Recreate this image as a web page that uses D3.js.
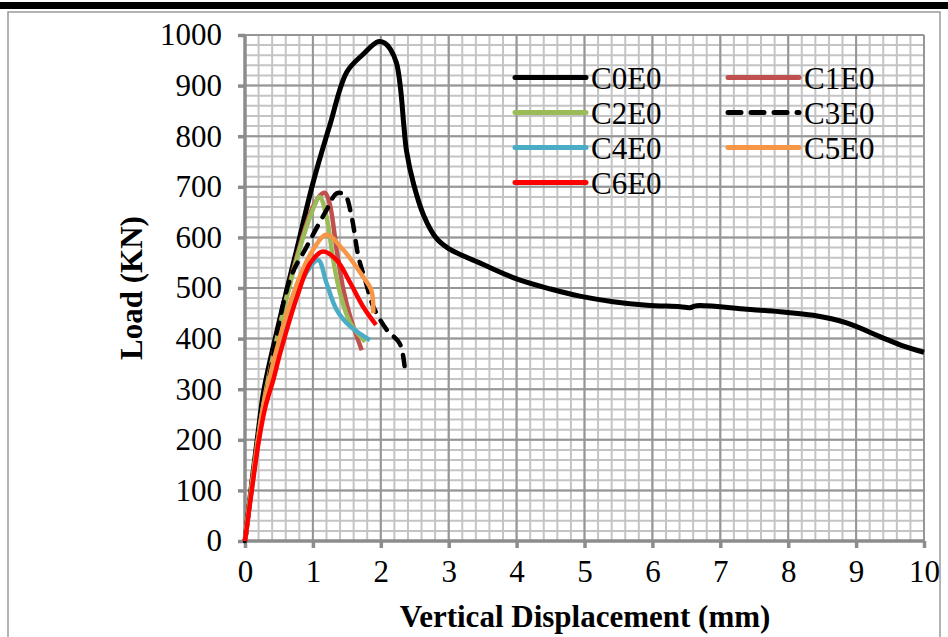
<!DOCTYPE html>
<html>
<head>
<meta charset="utf-8">
<script src="https://cdn.jsdelivr.net/npm/d3@7/dist/d3.min.js"></script>
<style>
  html, body { margin: 0; padding: 0; background: #fff; }
  svg { display: block; }
  text { font-family: "Liberation Serif", "Times New Roman", serif; fill: #000; }
</style>
</head>
<body>
<svg id="chart" width="948" height="637"></svg>
<script>
// Load–displacement curves, [displacement (mm), load (kN)]
const c0e0 = [[0,0],[0.1,115],[0.2,222],[0.28,300],[0.52,443],[0.76,575],[1.0,707],[1.25,822],[1.5,927],[1.74,962],[1.96,987],[2.06,984],[2.14,972],[2.23,945],[2.29,895],[2.34,820],[2.38,770],[2.48,707],[2.63,644],[2.82,598],[3.0,578],[3.5,547],[4.0,518],[4.5,498],[4.93,484],[5.42,473],[5.92,466],[6.41,463],[6.55,461],[6.65,465],[7.39,458],[7.88,453],[8.37,446],[8.86,431],[9.35,404],[9.7,385],[10,373]];
const c1e0 = [[0,0],[0.1,110],[0.2,210],[0.3,292],[0.55,448],[0.8,580],[1.0,660],[1.12,685],[1.18,688],[1.25,665],[1.35,575],[1.45,496],[1.55,443],[1.72,377]];
const c2e0 = [[0,0],[0.1,110],[0.2,210],[0.3,290],[0.55,445],[0.8,575],[1.0,655],[1.1,680],[1.2,641],[1.3,555],[1.4,490],[1.55,431],[1.77,394]];
const c3e0 = [[0,0],[0.1,108],[0.2,205],[0.3,280],[0.66,516],[0.91,582],[1.2,654],[1.35,687],[1.47,684],[1.57,641],[1.67,562],[1.77,516],[1.89,463],[2.09,417],[2.28,390],[2.36,332]];
const c4e0 = [[0,0],[0.1,105],[0.2,200],[0.3,275],[0.55,400],[0.76,490],[0.95,540],[1.08,555],[1.2,510],[1.35,457],[1.55,424],[1.84,397]];
const c5e0 = [[0,0],[0.1,108],[0.2,205],[0.3,285],[0.55,420],[0.8,520],[1.0,575],[1.2,605],[1.45,575],[1.74,522],[1.86,496],[1.89,450]];
const c6e0 = [[0,0],[0.1,100],[0.2,195],[0.3,265],[0.42,320],[0.52,372],[0.76,480],[0.96,549],[1.15,572],[1.35,555],[1.55,510],[1.74,463],[1.93,427]];

const seriesNames = ["C0E0","C1E0","C2E0","C3E0","C4E0","C5E0","C6E0"];
const seriesColors = ["#000000","#C0504D","#9BBB59","#000000","#4BACC6","#F79646","#FF0000"];
const seriesDashed = [false,false,false,true,false,false,false];
const seriesData = [c0e0,c1e0,c2e0,c3e0,c4e0,c5e0,c6e0];

const xTicks = [0,1,2,3,4,5,6,7,8,9,10];
const yTicks = [0,100,200,300,400,500,600,700,800,900,1000];

const svg = d3.select("#chart");

// Page frame
svg.append("rect").attr("x", 8).attr("y", 12).attr("width", 932).attr("height", 640)
  .attr("fill", "none").attr("stroke", "#9a9a9a").attr("stroke-width", 1.5);
svg.append("rect").attr("x", 0).attr("y", 2).attr("width", 948).attr("height", 7).attr("fill", "#000");

const plot = { left: 245, right: 924, top: 35, bottom: 541 };
const x = d3.scaleLinear().domain([0, 10]).range([plot.left, plot.right]);
const y = d3.scaleLinear().domain([0, 1000]).range([plot.bottom, plot.top]);

// Grid: minor every 0.2 mm / 20 kN, major every 1 mm / 100 kN
const g = svg.append("g");
const xMinor = d3.range(0, 10.001, 0.2);
const yMinor = d3.range(0, 1000.1, 20);
g.selectAll("line.xm").data(xMinor).join("line")
  .attr("x1", d => x(d)).attr("x2", d => x(d)).attr("y1", plot.top).attr("y2", plot.bottom)
  .attr("stroke", "#c4c4c4").attr("stroke-width", 2);
g.selectAll("line.ym").data(yMinor).join("line")
  .attr("x1", plot.left).attr("x2", plot.right).attr("y1", d => y(d)).attr("y2", d => y(d))
  .attr("stroke", "#c4c4c4").attr("stroke-width", 2);
g.selectAll("line.xM").data(xTicks).join("line")
  .attr("x1", d => x(d)).attr("x2", d => x(d)).attr("y1", plot.top).attr("y2", plot.bottom)
  .attr("stroke", "#969696").attr("stroke-width", 2);
g.selectAll("line.yM").data(yTicks).join("line")
  .attr("x1", plot.left).attr("x2", plot.right).attr("y1", d => y(d)).attr("y2", d => y(d))
  .attr("stroke", "#969696").attr("stroke-width", 2);

// Axes
const xAxis = d3.axisBottom(x).tickValues(xTicks).tickSize(7).tickPadding(12).tickFormat(d3.format("d"));
const yAxis = d3.axisLeft(y).tickValues(yTicks).tickSize(7).tickPadding(16).tickFormat(d3.format("d"));

const gx = svg.append("g").attr("transform", `translate(0,${plot.bottom})`).call(xAxis);
const gy = svg.append("g").attr("transform", `translate(${plot.left},0)`).call(yAxis);
[gx, gy].forEach(a => {
  a.select(".domain").attr("stroke", "#8c8c8c").attr("stroke-width", 3.5);
  a.selectAll(".tick line").attr("stroke", "#8c8c8c").attr("stroke-width", 3.5);
  a.selectAll(".tick text").attr("font-family", "Liberation Serif, serif").attr("font-size", 31).attr("fill", "#000");
});
gx.select(".domain").attr("d", `M${plot.left},0H${plot.right}`);
gy.select(".domain").attr("d", `M0,${plot.top}V${plot.bottom}`);

// Curves
const line = d3.line().x(d => x(d[0])).y(d => y(d[1])).curve(d3.curveCatmullRom.alpha(0.5));
const curves = svg.append("g");
seriesData.forEach((data, i) => {
  curves.append("path").datum(data)
    .attr("d", line)
    .attr("fill", "none")
    .attr("stroke", seriesColors[i])
    .attr("stroke-width", i === 0 ? 5 : 4.5)
    .attr("stroke-linejoin", "round")
    .attr("stroke-linecap", seriesDashed[i] ? "round" : "butt")
    .attr("stroke-dasharray", seriesDashed[i] ? "11,10" : null);
});

// Legend (two columns)
const legend = svg.append("g");
const legendCols = [515, 728];
const legendRows = [77.5, 112.5, 147.5, 182.5];
seriesNames.forEach((name, i) => {
  const cx = legendCols[i % 2];
  const cy = legendRows[Math.floor(i / 2)];
  legend.append("line")
    .attr("x1", cx).attr("x2", cx + 71).attr("y1", cy).attr("y2", cy)
    .attr("stroke", seriesColors[i]).attr("stroke-width", 5)
    .attr("stroke-linecap", "round")
    .attr("stroke-dasharray", seriesDashed[i] ? "13,10" : null);
  legend.append("text")
    .attr("x", cx + 76).attr("y", cy + 11)
    .attr("font-size", 31)
    .text(name);
});

// Axis titles
svg.append("text")
  .attr("x", 585).attr("y", 627)
  .attr("text-anchor", "middle").attr("font-size", 31).attr("font-weight", "bold")
  .text("Vertical Displacement (mm)");
svg.append("text")
  .attr("transform", "translate(142,288) rotate(-90)")
  .attr("text-anchor", "middle").attr("font-size", 31).attr("font-weight", "bold")
  .text("Load (KN)");
</script>
</body>
</html>
